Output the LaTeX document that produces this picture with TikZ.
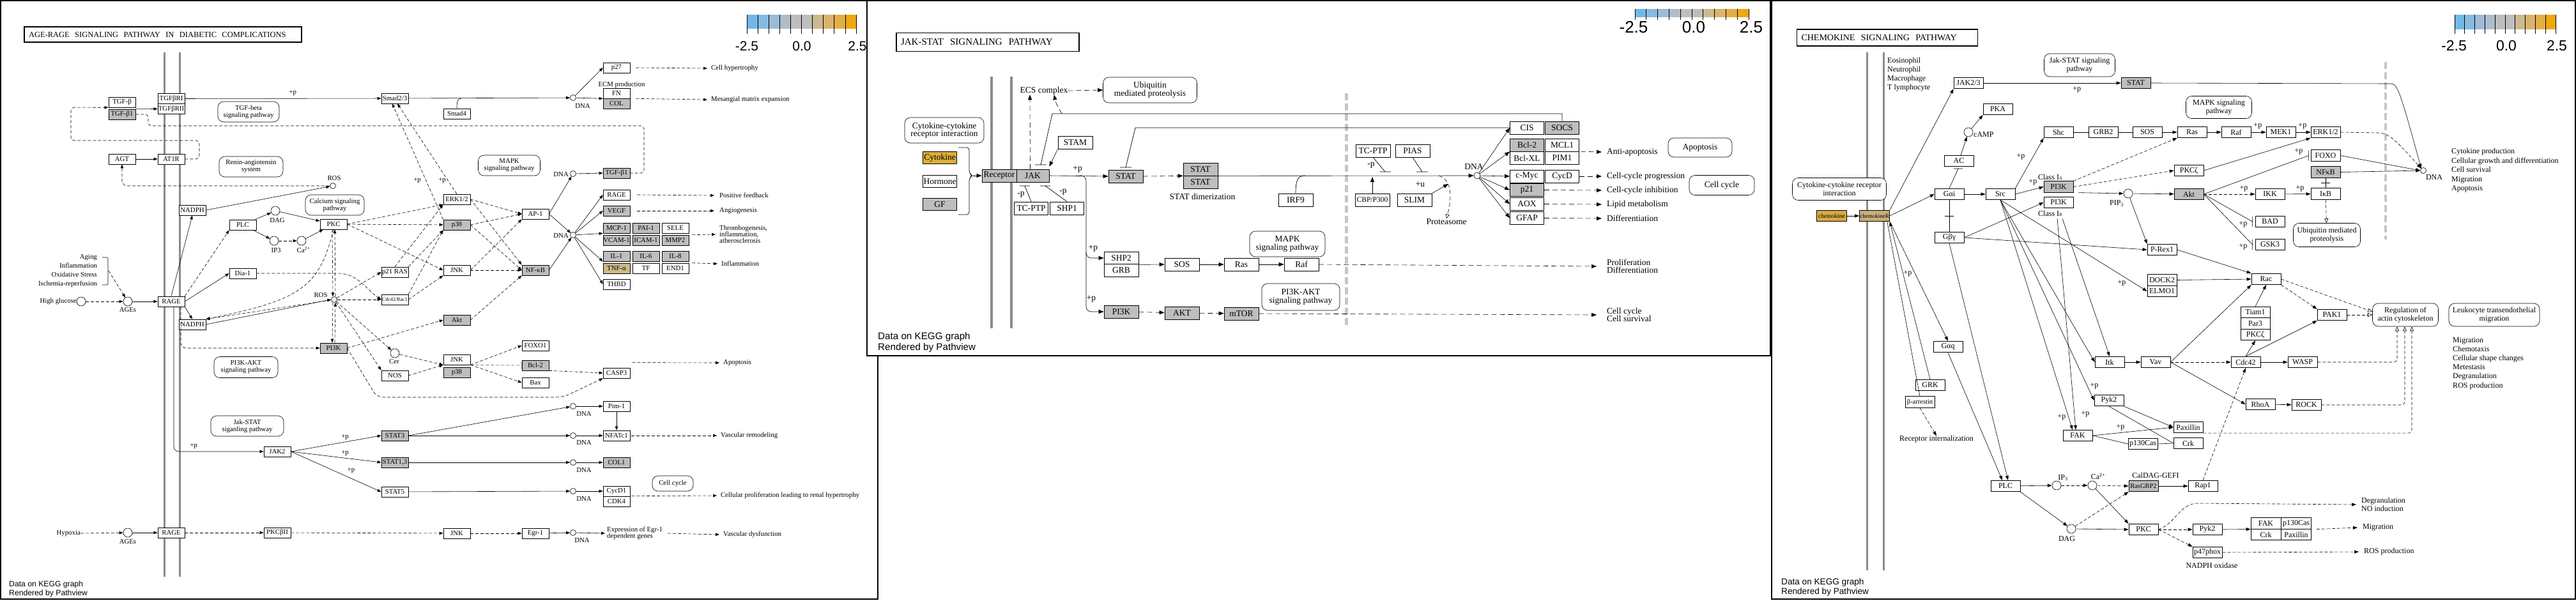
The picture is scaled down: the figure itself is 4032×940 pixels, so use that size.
\documentclass[tikz,border=0pt]{standalone}
\usepackage{fontspec}
\setmainfont{Liberation Serif}
\newfontfamily\pvsans{Liberation Sans}
\usetikzlibrary{arrows.meta, positioning, calc}

\definecolor{nodata}{HTML}{BEBEBE}
\definecolor{tnfcol}{HTML}{CDBB88}
\definecolor{cytocol}{HTML}{DDAE3A}
\definecolor{chemcol}{HTML}{D8AA40}
\definecolor{chemrcol}{HTML}{C9AF7A}
\definecolor{membcol}{HTML}{8A8A8A}
\definecolor{k1}{HTML}{71B8EA}
\definecolor{k2}{HTML}{87BAE1}
\definecolor{k3}{HTML}{9DBBD6}
\definecolor{k4}{HTML}{AFBDCB}
\definecolor{k5}{HTML}{BEBEBE}
\definecolor{k6}{HTML}{BEBEBE}
\definecolor{k7}{HTML}{CDB98F}
\definecolor{k8}{HTML}{D9B46A}
\definecolor{k9}{HTML}{E3AF45}
\definecolor{k10}{HTML}{EEA912}

\newcommand\fa{\fontsize{10.8}{11}\selectfont}
\newcommand\fb{\fontsize{13.5}{12.5}\selectfont}
\newcommand\fc{\fontsize{12}{13}\selectfont}

\tikzset{
  gene/.style={draw, line width=0.7pt, fill=white, inner sep=0pt, minimum width=42pt, minimum height=16pt},
  hit/.style={gene, fill=nodata},
  pmap/.style={draw, line width=0.6pt, fill=white, rounded corners=9pt, align=center, inner sep=1pt},
  cpd/.style={draw, circle, fill=white, line width=0.6pt, inner sep=0pt, minimum size=14pt},
  dna/.style={cpd, minimum size=9pt},
  txt/.style={inner sep=0pt, align=left},
  act/.style={->, line width=0.6pt},
  ind/.style={->, line width=0.6pt, dash pattern=on 5pt off 3pt},
  dsh/.style={line width=0.6pt, dash pattern=on 5pt off 3pt},
  toMap/.style={-{Triangle[open, length=7pt, width=6pt]}, line width=0.6pt, dash pattern=on 5pt off 3pt},
  membrane/.style={draw=membcol, line width=3pt},
  nucleus/.style={draw=gray!45, line width=5pt, dash pattern=on 11pt off 5pt},
  panel/.style={draw, line width=1.5pt, fill=white},
  titlebox/.style={draw, line width=1.6pt, inner xsep=7pt, align=left},
  keylbl/.style={inner sep=0pt, font=\pvsans\fontsize{21}{21}\selectfont},
  pvnote/.style={anchor=west, align=left, inner sep=0pt, font=\pvsans\fontsize{12.2}{14}\selectfont}
}

\begin{document}
\begin{tikzpicture}[x=1pt, y=-1pt]
\useasboundingbox (0,0) rectangle (4032,940);

%% ---------------- AGE-RAGE panel ----------------
\begin{scope}[font=\fa, >={Triangle[length=6pt,width=4.5pt]}]
\draw[panel] (1,1) rectangle (1374,938);
\node[titlebox, text width=420pt, minimum height=24pt, font=\fontsize{12.5}{13}\selectfont] (aTitle) at (255,54) {AGE-RAGE\ \ SIGNALING\ \ PATHWAY\ \ IN\ \ DIABETIC\ \ COMPLICATIONS};
% colour key
\foreach \c [count=\i from 0] in {k1,k2,k3,k4,k5,k6,k7,k8,k9,k10}
  \fill[\c] ({1169+17.1*\i},23) rectangle ++(17.1,22);
\foreach \i in {0,...,10}
  \draw[line width=0.8pt] ({1169+17.1*\i},23) -- ++(0,30);
\node[keylbl] (aKeyLo) at (1169,72) {-2.5};
\node[keylbl] (aKeyMid) at (1255,72) {0.0};
\node[keylbl] (aKeyHi) at (1342,72) {2.5};
% membrane
\draw[membrane] (257,82) -- (257,903);
\draw[membrane] (281,82) -- (281,903);

% TGF-beta
\node[gene] (aTGFb) at (191,160) {TGF-β};
\node[hit] (aTGFb1) at (191,179) {TGF-β1};
\node[gene] (aTGFbRI) at (268,154.5) {TGFβRI};
\node[gene] (aTGFbRII) at (268,170.5) {TGFβRII};
\node[pmap, minimum width=96pt, minimum height=32pt] (aTGFmap) at (389,175) {TGF-beta\\signaling pathway};
\node[gene] (aSmad) at (618,154) {Smad2/3};
\node[gene] (aSmad4) at (715,178) {Smad4};
\node[dna] (aDNA1) at (897,153) {};
\node[txt] (aDNA1l) at (912,166) {DNA};
\node[gene] (aP27) at (965,106) {p27};
\node[txt] (aECM) at (973,133) {ECM production};
\node[gene] (aFN) at (965,146) {FN};
\node[hit] (aCOL) at (965,162) {COL};
\node[txt, anchor=west] (aHyper) at (1113,107) {Cell hypertrophy};
\node[txt, anchor=west] (aMesang) at (1113,156) {Mesangial matrix expansion};

% renin-angiotensin
\node[gene] (aAGT) at (191,249) {AGT};
\node[gene] (aAT1R) at (268,249) {AT1R};
\node[pmap, minimum width=100pt, minimum height=32pt] (aRASmap) at (393,261) {Renin-angiotensin\\system};
\node[dna] (aROS1) at (521,291) {};
\node[txt] (aROS1l) at (523,279) {ROS};

% RAGE signalling
\node[gene] (aNADPH1) at (301,329) {NADPH};
\node[pmap, minimum width=92pt, minimum height=32pt] (aCamap) at (524,321) {Calcium signaling\\pathway};
\node[gene] (aPLC) at (380,352) {PLC};
\node[cpd] (aDAG) at (431,330) {};
\node[txt] (aDAGl) at (434,345) {DAG};
\node[cpd] (aIP3) at (429,377) {};
\node[txt] (aIP3l) at (432,392) {IP3};
\node[cpd] (aCa) at (472,377) {};
\node[txt] (aCal) at (475,391) {Ca\textsuperscript{2+}};
\node[gene] (aPKC) at (522,351) {PKC};
\node[gene] (aDia) at (380,428) {Dia-1};
\node[gene] (aRas) at (618,426) {p21 RAS};
\node[gene, font=\fontsize{8}{8}\selectfont] (aRac) at (618,469) {Cdc42/Rac1};
\node[dna] (aROS2) at (523,469) {};
\node[txt] (aROS2l) at (502,462) {ROS};
\node[txt, anchor=east, align=right, font=\fontsize{10.8}{14}\selectfont] (aStress) at (152,424) {Aging\\Inflammation\\Oxidative Stress\\Ischemia-reperfusion};
\draw[line width=0.6pt, rounded corners=2pt] (160,403) -- (169,403) -- (169,446) -- (160,446);
\coordinate (aBrace) at (170,424);
\node[cpd] (aHG) at (127,472) {};
\node[txt, anchor=east] (aHGl) at (120,472) {High glucose};
\node[cpd] (aAGE1) at (200,472) {};
\node[txt] (aAGE1l) at (200,485) {AGEs};
\node[gene] (aRAGE1) at (268,472) {RAGE};
\node[gene] (aNADPH2) at (301,508) {NADPH};
\node[hit] (aPI3K) at (522,545) {PI3K};
\node[pmap, minimum width=100pt, minimum height=33pt] (aPAmap) at (385,575) {PI3K-AKT\\signaling pathway};
\node[cpd] (aCer) at (618,553) {};
\node[txt] (aCerl) at (617,566) {Cer};
\node[gene] (aNOS) at (618,588) {NOS};

% kinases and transcription factors
\node[gene] (aERK) at (715,312) {ERK1/2};
\node[hit] (aP38a) at (715,352) {p38};
\node[gene] (aJNKa) at (715,423) {JNK};
\node[hit] (aAkt) at (715,501) {Akt};
\node[gene] (aJNKb) at (715,563) {JNK};
\node[hit] (aP38b) at (715,583) {p38};
\node[pmap, minimum width=97pt, minimum height=32pt] (aMAPKmap) at (797,259) {MAPK\\signaling pathway};
\node[gene] (aAP1) at (838,335) {AP-1};
\node[hit] (aNFkB) at (838,423) {NF-κB};
\node[dna] (aDNA2) at (897,272) {};
\node[txt, anchor=east] (aDNA2l) at (890,273) {DNA};
\node[hit] (aTGFb1b) at (965,271) {TGF-β1};
\node[dna] (aDNA3) at (897,368) {};
\node[txt, anchor=east] (aDNA3l) at (890,369) {DNA};
\node[gene] (aRAGE2) at (965,305) {RAGE};
\node[hit] (aVEGF) at (965,330) {VEGF};
\node[hit] (aMCP) at (965,357) {MCP-1};
\node[hit] (aPAI) at (1011,357) {PAI-1};
\node[gene] (aSELE) at (1057,357) {SELE};
\node[hit] (aVCAM) at (965,376) {VCAM-1};
\node[hit] (aICAM) at (1011,376) {ICAM-1};
\node[hit] (aMMP) at (1057,376) {MMP2};
\node[hit] (aIL1) at (965,401) {IL-1};
\node[hit] (aIL6) at (1011,401) {IL-6};
\node[hit] (aIL8) at (1057,401) {IL-8};
\node[gene, fill=tnfcol] (aTNF) at (965,420) {TNF-α};
\node[gene] (aTF) at (1011,420) {TF};
\node[gene] (aEND) at (1057,420) {END1};
\node[gene] (aTHBD) at (965,445) {THBD};
\node[txt, anchor=west] (aPosFb) at (1126,306) {Positive feedback};
\node[txt, anchor=west] (aAngio) at (1126,330) {Angiogenesis};
\node[txt, anchor=west, font=\fontsize{10.8}{10}\selectfont] (aThromb) at (1126,367) {Thrombogenesis,\\inflammation,\\atherosclerosis};
\node[txt, anchor=west] (aInfl) at (1129,413) {Inflammation};

% apoptosis
\node[gene] (aFOXO) at (838,541) {FOXO1};
\node[hit] (aBcl) at (838,572) {Bcl-2};
\node[gene] (aBax) at (838,599) {Bax};
\node[gene] (aCASP) at (965,584) {CASP3};
\node[txt, anchor=west] (aApop) at (1132,568) {Apoptosis};

% Jak-STAT
\node[pmap, minimum width=114pt, minimum height=32pt] (aJSmap) at (387,667) {Jak-STAT\\siganling pathway};
\node[gene] (aJAK2) at (434,707) {JAK2};
\node[hit] (aSTAT3) at (618,682) {STAT3};
\node[hit] (aSTAT13) at (618,724) {STAT1,3};
\node[gene] (aSTAT5) at (618,770) {STAT5};
\node[dna] (aDNA4) at (897,636) {};
\node[txt] (aDNA4l) at (914,648) {DNA};
\node[gene] (aPim) at (965,636) {Pim-1};
\node[dna] (aDNA5) at (897,682) {};
\node[txt] (aDNA5l) at (914,693) {DNA};
\node[gene] (aNFAT) at (965,682) {NFATc1};
\node[dna] (aDNA6) at (897,724) {};
\node[txt] (aDNA6l) at (914,736) {DNA};
\node[hit] (aCOL1) at (965,724) {COL1};
\node[dna] (aDNA7) at (897,769) {};
\node[txt] (aDNA7l) at (914,781) {DNA};
\node[gene] (aCycD) at (965,769) {CycD1};
\node[gene] (aCDK) at (965,785) {CDK4};
\node[pmap, minimum width=64pt, minimum height=24pt] (aCCmap) at (1053,757) {Cell cycle};
\node[txt, anchor=west] (aVasRem) at (1128,682) {Vascular remodeling};
\node[txt, anchor=west] (aProlif) at (1128,776) {Cellular proliferation leading to renal hypertrophy};

% hypoxia
\node[txt, anchor=east] (aHypox) at (126,835) {Hypoxia};
\node[cpd] (aAGE2) at (200,834) {};
\node[txt] (aAGE2l) at (200,848) {AGEs};
\node[gene] (aRAGE3) at (268,834) {RAGE};
\node[gene] (aPKCb) at (434,834) {PKCβII};
\node[gene] (aJNKc) at (715,835) {JNK};
\node[gene] (aEgr) at (838,835) {Egr-1};
\node[dna] (aDNA8) at (897,834) {};
\node[txt] (aDNA8l) at (911,846) {DNA};
\node[txt, anchor=west, font=\fontsize{10.8}{10}\selectfont] (aExpr) at (950,835) {Expression of Egr-1\\dependent genes};
\node[txt, anchor=west] (aVasDys) at (1132,837) {Vascular dysfunction};
\node[pvnote] (aNote) at (14,922) {Data on KEGG graph\\Rendered by Pathview};

% edges
\draw[act] (aTGFb1.north east) -- (aTGFbRII.west);
\draw[act] (aTGFbRI) -- (aSmad) node[pos=0.55, above=1pt] (aPp1) {+p};
\draw[act] (aSmad) -- (aDNA1);
\draw[line width=0.6pt] (aSmad4.north) .. controls (715,160) and (716,154) .. (722,154);
\draw[act] (aDNA1) -- (aP27.west);
\draw[act] (aDNA1) -- (aFN.south west);
\draw[ind] ([xshift=9pt]aP27.east) -- ([xshift=-6pt]aHyper.west);
\draw[ind] ([xshift=9pt]aFN.south east) -- ([xshift=-6pt]aMesang.west);
\draw[ind, rounded corners=6pt] (aAT1R.east) -- (312,249) -- (312,220) -- (111,220) -- (111,168) -- (aTGFb.south west);
\draw[dsh, rounded corners=5pt] (aTGFb1.east) -- (232,179) -- (232,197) -- (1008,197) -- (1008,271) -- (aTGFb1b.east);
\draw[act] (aAGT) -- (aAT1R);
\draw[ind, rounded corners=8pt] (aROS1.west) -| (aAGT.south);
\draw[act] (aNADPH1.east) -- (aROS1);
\draw[act] (aRAGE1.north) -- (aNADPH1.south);
\draw[ind] (aRAGE1.north east) -- (aPLC.south west);
\draw[act] (aRAGE1.east) -- (aDia.west);
\draw[act] (aPLC) -- (aDAG);
\draw[act] (aPLC) -- (aIP3);
\draw[ind] (aIP3) -- (aCa);
\draw[act] (aDAG) -- (aPKC);
\draw[act] (aCa) -- (aPKC);
\draw[ind] (aPKC.east) -- (aERK.south west);
\draw[ind] (aPKC) -- (aP38a);
\draw[ind] (aPKC.east) -- (aJNKa.west);
\draw[ind] ([xshift=-2pt]aPKC.south) -- ([xshift=-2pt]aROS2.north);
\draw[ind] ([xshift=2pt]aROS2.north) -- ([xshift=2pt]aPKC.south);
\draw[ind] ([xshift=-2pt]aROS2.south) -- ([xshift=-2pt]aPI3K.north);
\draw[ind] ([xshift=2pt]aPI3K.north) -- ([xshift=2pt]aROS2.south);
\draw[ind] (aDia.east) -- (530,428) .. controls (560,428) and (575,455) .. (aRac.west);
\draw[ind] (aROS2) -- (aRas.west);
\draw[ind] (aROS2) -- (aRac.west);
\draw[ind] (aRas.north) -- (aERK.south west);
\draw[ind] (aRas.north east) -- (aP38a.south west);
\draw[ind] (aRac.north east) -- (aP38a.south west);
\draw[ind] (aRac.east) -- (aJNKa.south west);
\draw[ind] (aERK.north) -- ([xshift=4pt]aSmad.south);
\draw[ind] (aP38a.north west) -- ([xshift=-4pt]aSmad.south);
\node[txt] (aPp2) at (653,283) {+p};
\node[txt] (aPp3) at (692,283) {+p};
\draw[act] (aRAGE1.south east) -- (aNADPH2.north);
\draw[act] (aNADPH2.east) -- (aROS2.west);
\draw[ind] (aROS2) -- (aNADPH2.north east);
\draw[ind] (aPKC.south) .. controls (500,450) and (470,470) .. (aNADPH2.north east);
\draw[ind, rounded corners=8pt] ([xshift=15pt]aRAGE1.south) |- (aPI3K.west);
\draw[act, rounded corners=8pt] ([xshift=4pt]aRAGE1.south) |- (aJAK2.west);
\node[txt] (aPp4) at (303,699) {+p};
\draw[ind] (aPI3K.east) -- (aAkt.west);
\draw[ind] (aROS2) -- (aCer);
\draw[ind] (aROS2) -- (aNOS.north west);
\draw[ind] (aCer) -- (aJNKb.south west);
\draw[ind] (aNOS.east) -- (aJNKb.south west);
\draw[ind, rounded corners=10pt] (aPI3K.east) -- (590,622) -- (881,622) -- (aCASP.south west);
\draw[ind] (aJNKb.south east) -- (aFOXO.west);
\draw[-{Bar[width=12pt]}, gray, line width=0.8pt, dash pattern=on 5pt off 3pt] (aJNKb.south east) -- (aBcl.west);
\draw[ind] (aJNKb.south east) -- (aBax.west);
\draw[ind] (aBcl.south east) -- (aCASP.west);
\draw[ind] ([xshift=3pt,yshift=8pt]aCASP.north east) -- ([xshift=-6pt]aApop.west);
\draw[ind] (aAkt.east) -- (aNFkB.south west);
\draw[ind] (aERK.east) -- (aAP1.west);
\draw[ind] (aP38a.east) -- (aAP1.west);
\draw[ind] (aJNKa.east) -- (aAP1.south west);
\draw[ind] (aERK.east) -- (aNFkB.north west);
\draw[ind] (aP38a.east) -- (aNFkB.west);
\draw[ind] (aJNKa.east) -- (aNFkB.west);
\draw[act] (aAP1.east) -- (aDNA2);
\draw[act] (aAP1.east) -- (aDNA3);
\draw[act] (aNFkB.east) -- (aDNA3);
\draw[act] (aDNA2) -- (aTGFb1b.west);
\draw[act] (aDNA3) -- (aRAGE2.west);
\draw[act] (aDNA3) -- (aVEGF.west);
\draw[act] (aDNA3) -- (aMCP.south west);
\draw[act] (aDNA3) -- (aIL1.south west);
\draw[act] (aDNA3) -- (aTHBD.west);
\draw[ind] ([xshift=11pt]aRAGE2.east) -- ([xshift=-8pt]aPosFb.west);
\draw[ind] ([xshift=11pt]aVEGF.east) -- ([xshift=-8pt]aAngio.west);
\draw[ind] ([xshift=5pt]aMMP.north east) -- ([xshift=-6pt]aThromb.west);
\draw[ind] ([xshift=5pt]aEND.north east) -- ([xshift=-6pt]aInfl.west);
\draw[act] (aJAK2.east) -- (aSTAT3.west) node[pos=0.6, above] (aPp5) {+p};
\draw[act] (aJAK2.east) -- (aSTAT13.west) node[pos=0.6, above] (aPp6) {+p};
\draw[act] (aJAK2.east) -- (aSTAT5.west) node[pos=0.6, above right] (aPp7) {+p};
\draw[act] (aSTAT3.east) -- (aDNA4);
\draw[act] (aSTAT3.east) -- (aDNA5);
\draw[act] (aSTAT13) -- (aDNA6);
\draw[act] (aSTAT5) -- (aDNA7);
\draw[act] (aDNA4) -- (aPim);
\draw[act] (aPim) -- (aNFAT);
\draw[act] (aDNA5) -- (aNFAT);
\draw[act] (aDNA6) -- (aCOL1);
\draw[act] (aDNA7) -- (aCycD.west);
\draw[ind] ([xshift=2pt]aNFAT.east) -- ([xshift=-6pt]aVasRem.west);
\draw[ind] ([xshift=2pt]aCDK.north east) -- ([xshift=-6pt]aProlif.west);
\draw[ind] (aHypox.east) -- (aAGE2);
\draw[act] (aAGE2) -- (aRAGE3);
\draw[ind] (aRAGE3) -- (aPKCb);
\draw[ind] (aPKCb) -- (aJNKc);
\draw[ind] (aJNKc) -- (aEgr);
\draw[act] (aEgr) -- (aDNA8);
\draw[act] (aDNA8) -- ([xshift=-3pt]aExpr.west);
\draw[ind] ([xshift=8pt]aExpr.east) -- ([xshift=-6pt]aVasDys.west);
\draw[ind] (aHG) -- (aAGE1);
\draw[act] (aAGE1) -- (aRAGE1);
\draw[ind] (aBrace) -- (aAGE1);
\end{scope}

%% ---------------- JAK-STAT panel ----------------
\begin{scope}[font=\fb, >={Triangle[length=8pt,width=6pt]},
  gene/.append style={minimum width=54pt, minimum height=20pt},
  ind/.append style={dash pattern=on 8pt off 5pt},
  toMap/.append style={dash pattern=on 6pt off 4pt}]
\draw[panel] (1357,1) rectangle (2771,557);
\node[titlebox, text width=272pt, minimum height=29pt, font=\fontsize{15}{15}\selectfont] (jTitle) at (1546,66) {JAK-STAT\ \ SIGNALING\ \ PATHWAY};
\foreach \c [count=\i from 0] in {k1,k2,k3,k4,k5,k6,k7,k8,k9,k10}
  \fill[\c] ({2559+17.8*\i},14) rectangle ++(17.8,13);
\foreach \i in {0,...,10}
  \draw[line width=0.8pt] ({2559+17.8*\i},14) -- ++(0,17);
\node[keylbl, font=\pvsans\fontsize{26}{26}\selectfont] (jKeyLo) at (2557,43) {-2.5};
\node[keylbl, font=\pvsans\fontsize{26}{26}\selectfont] (jKeyMid) at (2651,43) {0.0};
\node[keylbl, font=\pvsans\fontsize{26}{26}\selectfont] (jKeyHi) at (2741,43) {2.5};
\draw[membrane, line width=3.5pt] (1552,120) -- (1552,514);
\draw[membrane, line width=3.5pt] (1583,120) -- (1583,514);
\draw[nucleus] (2107,146) -- (2107,510);

% ligands and receptor
\node[pmap, minimum width=124pt, minimum height=40pt] (jCCI) at (1478,204) {Cytokine-cytokine\\receptor interaction};
\node[gene, fill=cytocol, minimum width=53pt, minimum height=19pt] (jCyt) at (1471,247) {Cytokine};
\node[gene, minimum width=53pt, minimum height=19pt] (jHorm) at (1471,284) {Hormone};
\node[hit, minimum width=53pt, minimum height=19pt] (jGF) at (1471,320) {GF};
\draw[line width=0.7pt, rounded corners=4pt] (1500,231) -- (1517,231) -- (1517,271) -- (1522,275) -- (1517,279) -- (1517,336) -- (1500,336);
\coordinate (jTip) at (1522,275);
\node[hit, minimum width=54pt] (jRec) at (1564,275) {Receptor};
\node[hit, minimum width=51pt] (jJAK) at (1616.5,275) {JAK};
\node[txt] (jECS) at (1634,142) {ECS complex};
\node[pmap, minimum width=147pt, minimum height=40pt] (jUbq) at (1800,141) {Ubiquitin\\mediated proteolysis};
\node[gene] (jSTAM) at (1683,223) {STAM};
\node[gene, minimum width=53pt] (jTCPa) at (1614,326) {TC-PTP};
\node[gene, minimum width=53pt] (jSHP1) at (1670,326) {SHP1};
\node[hit] (jSTAT) at (1762,276) {STAT};
\node[hit] (jSTATa) at (1879,265) {STAT};
\node[hit] (jSTATb) at (1879,285) {STAT};
\node[txt] (jDim) at (1882,308) {STAT dimerization};
\node[gene] (jIRF) at (2028,313) {IRF9};
\node[gene] (jSHP2) at (1755,404) {SHP2};
\node[gene] (jGRB) at (1755,423.5) {GRB};
\node[gene] (jSOS) at (1850,414) {SOS};
\node[gene] (jRas) at (1943,414) {Ras};
\node[gene] (jRaf) at (2037,414) {Raf};
\node[pmap, minimum width=118pt, minimum height=40pt] (jMAPK) at (2015,382) {MAPK\\signaling pathway};
\node[hit] (jPI3K) at (1755,488) {PI3K};
\node[hit] (jAKT) at (1850,490) {AKT};
\node[hit] (jmTOR) at (1943,491) {mTOR};
\node[pmap, minimum width=122pt, minimum height=42pt] (jPAmap) at (2036,465) {PI3K-AKT\\signaling pathway};

% nucleus
\node[gene] (jTCPb) at (2149,236) {TC-PTP};
\node[gene] (jPIAS) at (2211,236) {PIAS};
\node[gene, font=\fontsize{11.5}{12}\selectfont] (jCBP) at (2148,313) {CBP/P300};
\node[gene] (jSLIM) at (2214,313) {SLIM};
\node[txt] (jProt) at (2264,347) {Proteasome};
\node[dna, minimum size=10pt] (jDNA) at (2312,275) {};
\node[txt] (jDNAl) at (2307,261) {DNA};
\node[gene, minimum width=53pt] (jCIS) at (2390,200) {CIS};
\node[hit, minimum width=53pt] (jSOCS) at (2445,200) {SOCS};
\node[hit, minimum width=53pt] (jBcl) at (2390,227) {Bcl-2};
\node[gene, minimum width=53pt] (jMCL) at (2445,227) {MCL1};
\node[gene, minimum width=53pt] (jBclXL) at (2390,247.5) {Bcl-XL};
\node[gene, minimum width=53pt] (jPIM) at (2445,247.5) {PIM1};
\node[gene, minimum width=53pt] (jMyc) at (2390,276) {c-Myc};
\node[gene, minimum width=53pt] (jCycD) at (2445,276) {CycD};
\node[hit, minimum width=53pt] (jP21) at (2390,297.5) {p21};
\node[gene, minimum width=53pt] (jAOX) at (2390,319.5) {AOX};
\node[gene, minimum width=53pt] (jGFAP) at (2390,341.5) {GFAP};
\node[pmap, minimum width=100pt, minimum height=30pt] (jApo) at (2661,231) {Apoptosis};
\node[pmap, minimum width=102pt, minimum height=31pt] (jCC) at (2695,290) {Cell cycle};
\node[txt, anchor=west] (jPhAA) at (2515,238) {Anti-apoptosis};
\node[txt, anchor=west] (jPhCCP) at (2515,276) {Cell-cycle progression};
\node[txt, anchor=west] (jPhCCI) at (2515,298) {Cell-cycle inhibition};
\node[txt, anchor=west] (jPhLM) at (2515,320) {Lipid metabolism};
\node[txt, anchor=west] (jPhDif) at (2515,342) {Differentiation};
\node[txt, anchor=west] (jPhPro) at (2515,417) {Proliferation\\Differentiation};
\node[txt, anchor=west] (jPhCS) at (2515,493) {Cell cycle\\Cell survival};
\node[pvnote, font=\pvsans\fontsize{15.2}{17}\selectfont] (jNote) at (1374,536) {Data on KEGG graph\\Rendered by Pathview};

% edges
\draw[act] (jTip) -- (jRec.west);
\draw[act] (jJAK.east) -- (jSTAT.west) node[pos=0.48, above=1pt] (jPp1) {+p};
\draw[ind] ([xshift=-4pt]jJAK.north) -- ([xshift=-22pt]jECS.south);
\draw[ind] (jECS.east) -- (jUbq.west);
\draw[line width=0.7pt] (jSOCS.north) |- (1647,178) -- (1629,258) ++(-9,0) -- ++(18,0);
\draw[ind] (1662,178) .. controls (1656,168) and (1652,160) .. ([xshift=16pt]jECS.south);
\draw[line width=0.7pt] (jCIS.west) -- (1777,200) -- (1762,262) ++(-9,0) -- ++(18,0);
\draw[act] (jSTAM.south west) -- ([yshift=4pt]jJAK.north east);
\draw[line width=0.7pt] (jTCPa.north) -- (1604,291) ++(-8,0) -- ++(16,0);
\draw[line width=0.7pt] (jSHP1.north) -- (1636,291) ++(-8,0) -- ++(16,0);
\node[txt] (jMp1) at (1598,305) {-p};
\node[txt] (jMp2) at (1664,301) {-p};
\draw[ind] (jSTAT.east) -- (jSTATa.south west);
\draw[act] (jSTATa.south east) -- (jDNA.west);
\draw[line width=0.7pt] (jIRF.north) .. controls (2028,282) and (2031,275) .. (2043,275);
\coordinate (jBr) at (1690,275);
\draw[act, rounded corners=8pt] (jBr) -| (1700,404) -- (jSHP2.west);
\draw[act, rounded corners=8pt] (1700,395) |- (jPI3K.west);
\node[txt] (jPp2) at (1711,389) {+p};
\node[txt] (jPp3) at (1708,468) {+p};
\draw[act] (jSHP2.south east) -- (jSOS.west);
\draw[act] (jSOS) -- (jRas);
\draw[act] (jRas) -- (jRaf);
\draw[ind] (jRaf.east) -- ([xshift=-16pt]jPhPro.west);
\draw[ind] (jPI3K) -- (jAKT);
\draw[ind] (jAKT) -- (jmTOR);
\draw[ind] (jmTOR.east) -- ([xshift=-16pt]jPhCS.west);
\draw[line width=0.7pt] (jTCPb.south) -- (2168,269) ++(-9,0) -- ++(18,0);
\draw[line width=0.7pt] (jPIAS.south) -- (2226,269) ++(-9,0) -- ++(18,0);
\node[txt] (jMp3) at (2146,259) {-p};
\draw[act] (jCBP.north) -- (2148,277);
\draw[act] (jSLIM.north east) -- (2267,288);
\node[txt] (jPu) at (2223,289) {+u};
\draw[toMap] (2252,275) .. controls (2274,282) and (2272,312) .. (jProt.north);
\draw[act] (jDNA) -- (jCIS.west);
\draw[act] (jDNA) -- (jBcl.south west);
\draw[act] (jDNA) -- (jMyc.west);
\draw[act] (jDNA) -- (jP21.west);
\draw[act] (jDNA) -- (jAOX.west);
\draw[act] (jDNA) -- (jGFAP.west);
\draw[ind] ([xshift=2pt]jPIM.north east) -- ([xshift=-8pt]jPhAA.west);
\draw[ind] (jCycD.east) -- ([xshift=-8pt]jPhCCP.west);
\draw[ind] (jP21.east) -- ([xshift=-8pt]jPhCCI.west);
\draw[ind] (jAOX.east) -- ([xshift=-8pt]jPhLM.west);
\draw[ind] (jGFAP.east) -- ([xshift=-8pt]jPhDif.west);
\end{scope}

%% ---------------- Chemokine panel ----------------
\begin{scope}[font=\fc, >={Triangle[length=7pt,width=5pt]},
  gene/.append style={minimum width=46pt, minimum height=17.5pt}]
\draw[panel] (2773,1) rectangle (4031,938);
\node[titlebox, text width=269pt, minimum height=26pt, font=\fontsize{14}{14}\selectfont] (cTitle) at (2954,59) {CHEMOKINE\ \ SIGNALING\ \ PATHWAY};
\foreach \c [count=\i from 0] in {k1,k2,k3,k4,k5,k6,k7,k8,k9,k10}
  \fill[\c] ({3842+15.8*\i},23) rectangle ++(15.8,23);
\foreach \i in {0,...,10}
  \draw[line width=0.8pt] ({3842+15.8*\i},23) -- ++(0,30);
\node[keylbl, font=\pvsans\fontsize{23}{23}\selectfont] (cKeyLo) at (3841,72) {-2.5};
\node[keylbl, font=\pvsans\fontsize{23}{23}\selectfont] (cKeyMid) at (3923,72) {0.0};
\node[keylbl, font=\pvsans\fontsize{23}{23}\selectfont] (cKeyHi) at (4002,72) {2.5};
\draw[membrane] (2922,82) -- (2922,893);
\draw[membrane] (2948,82) -- (2948,893);
\draw[nucleus, line width=4.5pt] (3734,97) -- (3734,375);

% receptor
\node[txt, anchor=north west, font=\fontsize{12}{14}\selectfont] (cCells) at (2954,90) {Eosinophil\\Neutrophil\\Macrophage\\T lymphocyte};
\node[pmap, minimum width=147pt, minimum height=35pt] (cCCI) at (2879,296) {Cytokine-cytokine receptor\\interaction};
\node[gene, fill=chemcol, minimum width=47pt, font=\fontsize{9.5}{10}\selectfont] (cChem) at (2867,338) {chemokine};
\node[gene, fill=chemrcol, minimum width=47pt, font=\fontsize{9}{10}\selectfont] (cChemR) at (2934,338) {chemokineR};

% upper cascade
\node[gene] (cJAK) at (3081,130) {JAK2/3};
\node[hit] (cSTAT) at (3343,130) {STAT};
\node[pmap, minimum width=111pt, minimum height=36pt] (cJSmap) at (3255,102) {Jak-STAT signaling\\pathway};
\node[gene] (cPKA) at (3127,171) {PKA};
\node[cpd] (cCAMP) at (3081,207) {};
\node[txt, anchor=west] (cCAMPl) at (3089,211) {cAMP};
\node[gene] (cAC) at (3066,252) {AC};
\node[gene] (cGai) at (3051,304) {Gαi};
\node[gene] (cSrc) at (3131,304) {Src};
\node[gene] (cGby) at (3051,372) {Gβγ};
\node[gene] (cShc) at (3222,207) {Shc};
\node[gene] (cGRB) at (3292,207) {GRB2};
\node[gene] (cSOS) at (3361,207) {SOS};
\node[gene] (cRas) at (3431,207) {Ras};
\node[gene] (cRaf) at (3500,207) {Raf};
\node[gene] (cMEK) at (3570,207) {MEK1};
\node[gene] (cERK) at (3640,207) {ERK1/2};
\node[pmap, minimum width=103pt, minimum height=35pt] (cMAPK) at (3473,168) {MAPK signaling\\pathway};
\node[hit] (cPI3Ka) at (3222,292.5) {PI3K};
\node[txt] (cIAl) at (3209,277) {Class I{\scriptsize A}};
\node[gene] (cPI3Kb) at (3222,317) {PI3K};
\node[txt] (cIBl) at (3209,334) {Class I{\scriptsize B}};
\node[cpd] (cPIP) at (3331,303) {};
\node[txt] (cPIPl) at (3313,319) {PIP\textsubscript{3}};
\node[gene] (cPKCz) at (3426,267) {PKCζ};
\node[hit] (cAkt) at (3426,304) {Akt};
\node[gene] (cIKK) at (3553,304) {IKK};
\node[gene] (cBAD) at (3553,347) {BAD};
\node[gene] (cGSK) at (3553,383) {GSK3};
\node[gene] (cFOXO) at (3640,243.5) {FOXO};
\node[hit] (cNFkB) at (3640,269.5) {NFκB};
\node[gene] (cIkB) at (3640,303.5) {IκB};
\node[pmap, minimum width=105pt, minimum height=37pt] (cUbq) at (3642,368) {Ubiquitin mediated\\proteolysis};
\node[dna] (cDNA) at (3793,267) {};
\node[txt] (cDNAl) at (3810,278) {DNA};
\node[txt, anchor=north west, font=\fontsize{12}{14.5}\selectfont] (cOut1) at (3837,232) {Cytokine production\\Cellular growth and differentiation\\Cell survival\\Migration\\Apoptosis};

% Rho family
\node[gene] (cPRex) at (3384,391) {P-Rex1};
\node[gene] (cDOCK) at (3384,438.5) {DOCK2};
\node[gene] (cELMO) at (3384,456) {ELMO1};
\node[gene] (cRac) at (3547,437) {Rac};
\node[gene] (cTiam) at (3530,489) {Tiam1};
\node[gene] (cPar) at (3530,506.5) {Par3};
\node[gene] (cPKCz2) at (3530,524) {PKCζ};
\node[gene] (cPAK) at (3650,493) {PAK1};
\node[pmap, minimum width=103pt, minimum height=36pt] (cReg) at (3765,493) {Regulation of\\actin cytoskeleton};
\node[pmap, minimum width=142pt, minimum height=36pt] (cLeu) at (3904,493) {Leukocyte transendothelial\\migration};
\node[txt, anchor=north west, font=\fontsize{12}{14.2}\selectfont] (cOut2) at (3839,528) {Migration\\Chemotaxis\\Cellular shape changes\\Metestasis\\Degranulation\\ROS production};
\node[gene] (cItk) at (3302,567) {Itk};
\node[gene] (cVav) at (3374,567) {Vav};
\node[gene] (cCdc) at (3515,567) {Cdc42};
\node[gene] (cWASP) at (3604,567) {WASP};
\node[gene] (cRhoA) at (3538,633) {RhoA};
\node[gene] (cROCK) at (3610,634) {ROCK};
\node[gene] (cPyka) at (3301,627) {Pyk2};
\node[gene] (cFAKa) at (3252,682) {FAK};
\node[gene] (cCas) at (3354,695) {p130Cas};
\node[gene] (cPax) at (3425,669) {Paxillin};
\node[gene] (cCrk) at (3425,694) {Crk};

% lower branch
\node[gene] (cGaq) at (3049,543) {Gαq};
\node[gene] (cGRK) at (3021,603) {GRK};
\node[gene, font=\fontsize{10.5}{11}\selectfont] (cArr) at (3005,629.5) {β-arrestin};
\node[txt] (cRI) at (3031,688) {Receptor internalization};
\node[gene] (cPLC) at (3139,761) {PLC};
\node[cpd] (cIP3) at (3219,760) {};
\node[txt] (cIP3l) at (3229,748) {IP\textsubscript{3}};
\node[cpd] (cCa) at (3275,760) {};
\node[txt] (cCal) at (3284,746) {Ca\textsuperscript{2+}};
\node[cpd] (cDAG) at (3242,828) {};
\node[txt] (cDAGl) at (3235,844) {DAG};
\node[hit, font=\fontsize{10.5}{11}\selectfont] (cGRP) at (3355,761) {RasGRP2};
\node[txt] (cGEF) at (3374,744) {CalDAG-GEFI};
\node[gene] (cRap) at (3448,761) {Rap1};
\node[gene] (cPKC) at (3355,829) {PKC};
\node[gene] (cPykb) at (3455,829) {Pyk2};
\node[gene, minimum width=47pt] (cFAKb) at (3546.5,819.5) {FAK};
\node[gene, minimum width=47pt] (cCasb) at (3594,819.5) {p130Cas};
\node[gene, minimum width=47pt] (cCrkb) at (3546.5,837) {Crk};
\node[gene, minimum width=47pt] (cPaxb) at (3594,837) {Paxillin};
\node[gene] (cP47) at (3455,865) {p47phox};
\node[txt] (cNOX) at (3462,885) {NADPH oxidase};
\node[txt, anchor=west, font=\fontsize{12}{13}\selectfont] (cPhDeg) at (3696,790) {Degranulation\\NO induction};
\node[txt, anchor=west] (cPhMig) at (3698,826) {Migration};
\node[txt, anchor=west] (cPhROS) at (3700,864) {ROS production};
\node[pvnote, font=\pvsans\fontsize{13.6}{15}\selectfont] (cNote) at (2788,919) {Data on KEGG graph\\Rendered by Pathview};

% edges
\draw[act] (cChem) -- (cChemR);
\draw[act] (cChemR.north east) -- (cJAK.south west);
\draw[act] (cChemR.east) -- (cGai.west);
\draw[act] (cJAK) -- (cSTAT) node[pos=0.68, below=2pt] (cPp1) {+p};
\draw[act] (cSTAT.east) -- (3742,131) .. controls (3752,131) and (3756,140) .. (cDNA.north west);
\draw[act] (cAC) -- (cCAMP);
\draw[act] (cCAMP) -- (cPKA.south west);
\draw[line width=0.6pt] (cGai.north) -- (3065,264) ++(-7,0) -- ++(14,0);
\draw[line width=0.6pt] (cGai) -- (cGby);
\draw[line width=0.6pt] ($(cGai.south)!0.5!(cGby.north)+(-7,0)$) -- ++(14,0);
\draw[act] (cGai) -- (cSrc);
\draw[act] (cSrc.north east) -- (cShc.south west);
\node[txt] (cPp2) at (3163,245) {+p};
\draw[act] (cSrc.east) -- (cPI3Ka.west);
\node[txt] (cPp3) at (3182,285) {+p};
\draw[act] (cGby.east) -- (cPI3Kb.west);
\draw[line width=0.6pt] (cShc) -- (cGRB);
\draw[line width=0.6pt] (cGRB) -- (cSOS);
\draw[act] (cSOS) -- (cRas);
\draw[act] (cRas) -- (cRaf);
\draw[act] (cRaf) -- (cMEK) node[pos=0.45, above=1pt] (cPp4) {+p};
\draw[act] (cMEK) -- (cERK) node[pos=0.45, above=1pt] (cPp5) {+p};
\draw[ind] (cPI3Ka.north east) -- (cRas.south west);
\draw[ind] (cPI3Ka.east) -- (cPKCz.west);
\draw[act] ([xshift=8pt]cPI3Ka.south east) -- (cPIP.west);
\draw[act] (cPIP) -- (cAkt);
\draw[act] (cPKCz.east) -- (cERK.south west);
\draw[line width=0.6pt] (cAkt.east) -- ([xshift=-3pt]cFOXO.west) ++(0,-8) -- ++(0,16);
\node[txt] (cPp6) at (3598,237) {+p};
\draw[ind] (cAkt.east) -- (cIKK.west);
\node[txt] (cPp7) at (3512,295) {+p};
\draw[act] (cIKK) -- (cIkB);
\node[txt] (cPp8) at (3600,295) {+p};
\draw[line width=0.6pt] (cAkt.east) -- ([xshift=-4pt]cBAD.west) ++(0,-8) -- ++(0,16);
\node[txt] (cPp9) at (3511,351) {+p};
\draw[line width=0.6pt] (cAkt.east) -- ([xshift=-4pt]cGSK.west) ++(0,-8) -- ++(0,16);
\node[txt] (cPp10) at (3511,386) {+p};
\draw[line width=0.6pt] (cNFkB) -- (cIkB);
\draw[line width=0.6pt] ($(cNFkB.south)!0.5!(cIkB.north)+(-7,0)$) -- ++(14,0);
\draw[toMap] (cIkB) -- (cUbq);
\draw[ind] (cERK.east) -- (3722,208) .. controls (3740,208) and (3752,222) .. (cDNA.north west);
\draw[act] (cFOXO.east) -- (cDNA.west);
\draw[act] (cNFkB.east) -- (cDNA.west);
\draw[act] (cGby.east) -- (cPRex.west);
\draw[act] (cPIP) -- (cPRex.north west);
\draw[act] (cSrc.south) -- (cELMO.west);
\node[txt] (cPp11) at (3321,443) {+p};
\draw[act] (cPRex.east) -- (cRac.north west);
\draw[act] (cDOCK.east) -- (cRac.west);
\draw[act] (cTiam.north) -- (cRac.south);
\draw[act] (cVav.east) -- (cRac.south west);
\draw[ind] (cVav.east) -- (cCdc.west);
\draw[act] (cVav.east) -- (cRhoA.west);
\draw[act] (cItk) -- (cVav);
\draw[act] (cSrc.south) -- (cItk.west);
\draw[act] ([xshift=6pt,yshift=-16pt]cPI3Kb.south) -- (cItk.north);
\draw[act] (cSrc.south) -- (cPyka.west);
\node[txt] (cPp12) at (3278,604) {+p};
\draw[act] (cSrc.south) -- ([xshift=-8pt]cFAKa.north);
\node[txt] (cPp13) at (3227,653) {+p};
\draw[act] ([xshift=-2pt,yshift=-16pt]cPI3Kb.south) -- ([xshift=-3pt]cFAKa.north);
\node[txt] (cPp14) at (3264,648) {+p};
\draw[act] (cPyka.south east) -- (cPax.west);
\draw[line width=0.6pt] (cPyka.south) -- (cCrk.west);
\draw[act] (cFAKa.east) -- (cPax.west);
\node[txt] (cPp15) at (3319,669) {+p};
\draw[line width=0.6pt] (cFAKa.east) -- (cCas.west);
\draw[line width=0.6pt] (cCas.east) -- (cCrk.west);
\draw[act] (cChemR.south east) -- (cGaq.north);
\draw[act] (cGaq.south) -- ([xshift=-5pt]cPLC.north);
\draw[act] (cGby.south) -- ([xshift=4pt]cPLC.north);
\draw[act] (cGRK.north) -- (cChemR.south east);
\node[txt] (cPp16) at (2986,428) {+p};
\draw[line width=0.6pt] (cArr.north) -- ([xshift=-4pt]cChemR.south east);
\draw[ind] (cArr.south) -- (cRI.north);
\draw[act] (cPLC) -- (cIP3);
\draw[ind] (cIP3) -- (cCa);
\draw[ind] (cCa) -- (cGRP.west);
\draw[act] (cCa) -- (cPKC.north west);
\draw[act] (cPLC.south east) -- (cDAG);
\draw[ind] (cDAG) -- (cGRP.south west);
\draw[act] (cDAG) -- (cPKC.west);
\draw[act] (cGRP) -- (cRap);
\draw[ind] (cRap.north) -- (cCdc.south);
\draw[ind] (cPKC.east) .. controls (3405,820) and (3412,788) .. (3440,788) -- ([xshift=-8pt]cPhDeg.west);
\draw[ind] (cPKC) -- (cPykb);
\draw[ind] (cPKC.east) -- (cP47.north west);
\draw[act] (cPykb.east) -- (cFAKb.south west);
\draw[ind] ([xshift=8pt]cCasb.south east) -- ([xshift=-8pt]cPhMig.west);
\draw[ind] (cP47.east) -- ([xshift=-8pt]cPhROS.west);
\draw[ind] (cRac.south east) -- (cPAK.north west);
\draw[toMap] (cRac.east) -- ([yshift=5pt]cReg.west);
\draw[act] (cCdc.north) -- (cPKCz2.south);
\draw[act] (cCdc.north) -- (cPAK.south west);
\draw[act] (cCdc) -- (cWASP);
\draw[toMap] (cPAK) -- (cReg);
\draw[toMap, rounded corners=5pt] (cWASP.east) -| ([xshift=-13pt]cReg.south);
\draw[act] (cRhoA) -- (cROCK);
\draw[toMap, rounded corners=5pt] (cROCK.east) -| ([xshift=-1pt]cReg.south);
\draw[toMap, rounded corners=5pt] (cPax.south east) -| ([xshift=10pt]cReg.south);
\end{scope}
\end{tikzpicture}
\end{document}
